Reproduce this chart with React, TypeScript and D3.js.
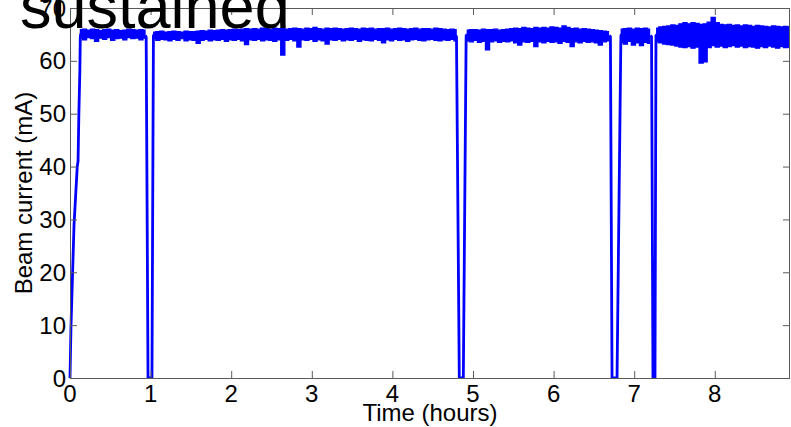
import React from "react";
import * as d3 from "d3";

const xTicks = [0, 1, 2, 3, 4, 5, 6, 7, 8];
const yTicks = [0, 10, 20, 30, 40, 50, 60, 70];

// transitions (time in hours, current in mA)
const ramp: [number, number][] = [[0, 0], [0.012, 9.6], [0.05, 29], [0.09, 40], [0.1, 41], [0.11, 50], [0.122, 58], [0.128, 64.5], [0.135, 65.2]];
const drop1: [number, number][] = [[0.935, 64.8], [0.945, 64.5], [0.968, 0], [1.017, 0], [1.035, 64.8], [1.045, 65.0]];
const drop2: [number, number][] = [[4.785, 64.8], [4.795, 64.6], [4.83, 0], [4.88, 0], [4.915, 64.8], [4.93, 65.0]];
const drop3: [number, number][] = [[6.69, 64.8], [6.705, 64.6], [6.725, 0], [6.787, 0], [6.835, 64.8], [6.845, 65.0]];
const drop4: [number, number][] = [[7.2, 64.8], [7.215, 64.6], [7.233, 0], [7.258, 0], [7.27, 64.8], [7.285, 65.0]];

// noisy plateau envelopes, sampled every 0.05 h
const startA = 0.13;
const hiA = [65.9, 66.0, 65.8, 66.0, 65.9, 65.7, 65.9, 66.0, 65.8, 65.9, 65.7, 65.8, 66.0, 65.9, 65.8, 65.9, 65.8];
const loA = [64.3, 64.0, 64.4, 64.2, 63.7, 64.3, 64.1, 64.4, 63.9, 64.2, 64.3, 64.0, 64.4, 64.2, 64.3, 64.0, 64.3];

const startB = 1.04;
const hiB = [
  65.4, 65.5, 65.6, 65.4, 65.5, 65.6, 65.5, 65.4, 65.6, 65.5, 65.5, 65.6, 65.7,
  65.6, 65.8, 65.7, 65.8, 65.9, 65.8, 65.9, 66.0, 65.9, 66.0, 66.1, 66.0,
  66.1, 66.0, 66.2, 66.1, 66.0, 66.2, 66.1, 66.2, 66.0, 66.1, 66.2, 66.1, 66.0, 66.2, 66.1, 66.3, 66.1, 66.0, 66.2, 66.1,
  66.2, 66.1, 66.0, 66.1, 66.2, 66.1, 66.0, 66.2, 66.1, 66.2, 66.0, 66.1, 66.1, 66.2, 66.0, 66.1, 66.2, 66.1, 66.0, 66.1,
  66.2, 66.0, 66.1, 66.1, 66.0, 66.2, 66.1, 66.0, 65.9, 66.0, 65.9,
];
const loB = [
  64.2, 63.9, 64.1, 64.0, 63.8, 64.1, 63.9, 64.2, 63.8, 64.0, 63.9, 63.3, 63.9,
  64.1, 63.8, 64.0, 63.9, 64.1, 63.7, 64.0, 63.9, 64.1, 63.8, 63.1, 64.0,
  63.9, 64.1, 63.8, 64.0, 63.9, 63.7, 64.0, 61.1, 63.9, 64.1, 63.8, 62.6, 64.0, 63.9, 64.1, 63.7, 64.0, 63.8, 63.2, 64.0,
  63.9, 64.1, 63.8, 64.0, 63.9, 64.1, 63.7, 64.0, 63.9, 63.8, 64.1, 63.9, 63.4, 64.0, 63.8, 64.1, 63.9, 64.0, 63.7, 64.0,
  64.1, 63.9, 63.8, 64.0, 64.1, 63.9, 63.8, 64.0, 63.9, 64.1, 63.8,
];

const startC = 4.93;
const hiC = [
  65.8, 65.9, 65.9, 65.8, 66.0, 65.9, 65.9, 66.0, 65.8, 65.9,
  66.0, 66.1, 66.2, 66.1, 66.3, 66.2, 66.1, 66.3, 66.2, 66.3,
  66.2, 66.4, 66.3, 66.2, 66.6, 66.3, 66.1, 66.2, 66.0, 66.1,
  66.0, 65.9, 65.8, 65.7, 65.6, 65.5,
];
const loC = [
  63.8, 63.6, 63.9, 63.5, 63.7, 62.1, 63.6, 63.8, 63.5, 63.7,
  63.6, 63.8, 63.4, 63.0, 63.6, 63.5, 63.7, 62.7, 63.6, 63.4,
  63.7, 63.5, 63.6, 63.3, 63.7, 63.5, 62.7, 63.6, 63.4, 63.7,
  63.5, 63.6, 63.4, 63.0, 63.6, 63.8,
];

const startD = 6.84;
const hiD = [66.0, 66.1, 66.2, 66.0, 66.2, 66.1, 66.2, 66.0];
const loD = [63.5, 63.2, 63.7, 63.0, 63.4, 62.9, 63.5, 63.3];

const startE = 7.28;
const hiE = [66.2, 66.4, 66.5, 66.6, 66.8, 66.7, 67.0, 67.2, 67.0, 67.2, 67.1, 66.9, 67.0, 67.3, 68.2, 67.2, 66.9, 66.8, 66.9, 66.7, 66.8, 66.6, 66.8, 66.7, 66.5, 66.7, 66.6, 66.5, 66.4, 66.6, 66.5, 66.4, 66.5, 66.4];
const loE = [63.6, 63.4, 63.2, 63.1, 63.0, 62.8, 62.6, 62.5, 62.7, 62.4, 62.6, 59.6, 59.8, 62.5, 62.9, 62.6, 62.8, 62.5, 62.7, 62.9, 62.6, 62.8, 62.5, 62.7, 62.6, 62.4, 62.7, 62.5, 62.8, 62.6, 62.4, 62.7, 62.5, 62.6];

const STEP = 0.05;

type Row = { t: number; hi: number; lo: number };
function rows(start: number, hi: number[], lo: number[]): Row[] {
  const n = Math.min(hi.length, lo.length);
  const out: Row[] = [];
  for (let i = 0; i < n; i++) out.push({ t: start + i * STEP, hi: hi[i], lo: lo[i] });
  return out;
}

const L = 70, R = 790, T = 8, B = 378;
const FONT = "'Liberation Sans', Arial, Helvetica, sans-serif";
const AXIS = "#5a5a5a";
const BLUE = "#0000ff";
const FS = 24;

export default function App() {
  const x = d3.scaleLinear().domain([0, 8.933]).range([L, R]);
  const y = d3.scaleLinear().domain([0, 70]).range([B, T]);

  const area = d3
    .area<Row>()
    .x((d) => x(d.t))
    .y0((d) => y(d.lo))
    .y1((d) => y(d.hi))
    .curve(d3.curveStep);
  const line = d3
    .line<[number, number]>()
    .x((d) => x(d[0]))
    .y((d) => y(d[1]));

  const segs = [
    rows(startA, hiA, loA),
    rows(startB, hiB, loB),
    rows(startC, hiC, loC),
    rows(startD, hiD, loD),
    rows(startE, hiE, loE),
  ];
  const transitions = [ramp, drop1, drop2, drop3, drop4];
  const tickLen = 7;

  return (
    <svg width={791} height={427} style={{ position: "absolute", left: 0, top: 0, background: "#fff" }}>
      <defs>
        <clipPath id="plotclip">
          <rect x={L - 2} y={T} width={R - L + 2} height={B - T + 1} />
        </clipPath>
      </defs>
      <rect x={0} y={0} width={791} height={427} fill="#fff" />
      <g clipPath="url(#plotclip)">
        {segs.map((s, i) => (
          <path key={"a" + i} d={area(s) || ""} fill={BLUE} stroke={BLUE} strokeWidth={1.4} />
        ))}
        {transitions.map((tr, i) => (
          <path key={"t" + i} d={line(tr) || ""} fill="none" stroke={BLUE} strokeWidth={2.8} strokeLinejoin="round" />
        ))}
      </g>
      {/* axes box */}
      <rect x={L + 0.5} y={T + 0.5} width={R - L - 1} height={B - T} fill="none" stroke={AXIS} strokeWidth={1} />
      {xTicks.map((t) => (
        <g key={"xt" + t}>
          <line x1={x(t) + 0.5} x2={x(t) + 0.5} y1={B} y2={B - tickLen} stroke={AXIS} />
          <line x1={x(t) + 0.5} x2={x(t) + 0.5} y1={T} y2={T + tickLen} stroke={AXIS} />
          <text x={x(t)} y={402} textAnchor="middle" fontFamily={FONT} fontSize={FS} fill="#000">
            {t}
          </text>
        </g>
      ))}
      {yTicks.map((v) => (
        <g key={"yt" + v}>
          <line x1={L} x2={L + tickLen} y1={y(v) + 0.5} y2={y(v) + 0.5} stroke={AXIS} />
          <line x1={R} x2={R - tickLen} y1={y(v) + 0.5} y2={y(v) + 0.5} stroke={AXIS} />
          <text x={66} y={y(v)} dy="0.36em" textAnchor="end" fontFamily={FONT} fontSize={FS} fill="#000">
            {v}
          </text>
        </g>
      ))}
      <text x={(L + R) / 2} y={421} textAnchor="middle" fontFamily={FONT} fontSize={FS} fill="#000">
        Time (hours)
      </text>
      <text
        transform={`translate(32, ${(T + B) / 2}) rotate(-90)`}
        textAnchor="middle"
        fontFamily={FONT}
        fontSize={FS}
        fill="#000"
      >
        Beam current (mA)
      </text>
      <text x={20} y={28} fontFamily={FONT} fontSize={63} fill="#000">
        sustained
      </text>
    </svg>
  );
}
